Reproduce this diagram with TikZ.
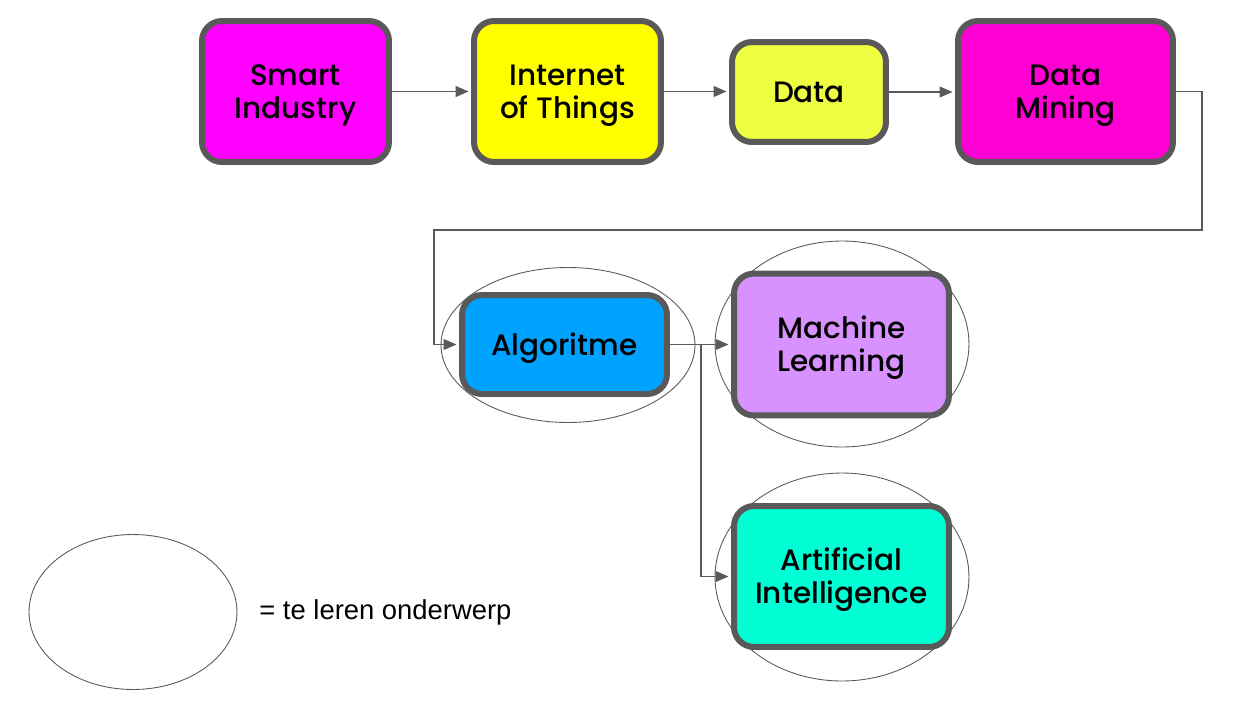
\documentclass[tikz,border=0pt]{standalone}
\usepackage{fontspec}
\setmainfont{Poppins}[UprightFont=* Medium]
\newfontfamily\legendfont{Liberation Sans}
\usetikzlibrary{arrows.meta,shapes.geometric}
\definecolor{bordergray}{HTML}{595959}
\definecolor{linegray}{HTML}{5A5A5A}
\definecolor{cSmart}{HTML}{FF00FF}
\definecolor{cIoT}{HTML}{FFFF00}
\definecolor{cData}{HTML}{EEFF41}
\definecolor{cMining}{HTML}{FF00D4}
\definecolor{cAlgo}{HTML}{00A2FF}
\definecolor{cML}{HTML}{D892FF}
\definecolor{cAI}{HTML}{00FFD5}
\newcommand\boxtext[1]{\raisebox{-0.08cm}[\height][\depth]{\begin{tabular}{@{}c@{}}#1\end{tabular}}}
\tikzset{
  box/.style={draw=bordergray, line width=0.12cm, rounded corners=0.4cm,
    inner sep=0pt, font=\fontsize{16.8}{18.5}\selectfont},
  conn/.style={draw=linegray, line width=0.6pt,
    -{Triangle[length=0.26cm,width=0.22cm]}, shorten >=0.05cm},
  topic/.style={draw=linegray, line width=0.5pt, ellipse, inner sep=0pt}
}
\begin{document}
\begin{tikzpicture}[x=0.02cm,y=-0.02cm]
\useasboundingbox (0,0) rectangle (1255,708);
% ellipses (topics to learn)
\node[topic, minimum width=5.08cm, minimum height=3.1cm] (eAlgo) at (568,345) {};
\node[topic, minimum width=5.08cm, minimum height=4.12cm] (eML) at (842,344) {};
\node[topic, minimum width=5.08cm, minimum height=4.16cm] (eAI) at (842,577) {};
\node[topic, minimum width=4.16cm, minimum height=3.1cm] (eLeg) at (133,612) {};
% boxes
\node[box, fill=cSmart, minimum width=3.74cm, minimum height=2.82cm] (smart) at (295.5,91.5) {\boxtext{Smart\\Industry}};
\node[box, fill=cIoT, minimum width=3.74cm, minimum height=2.82cm] (iot) at (567.5,91.5) {\boxtext{Internet\\of Things}};
\node[box, fill=cData, minimum width=3.08cm, minimum height=2.0cm] (data) at (809,92) {\boxtext{Data}};
\node[box, fill=cMining, minimum width=4.3cm, minimum height=2.82cm] (mining) at (1065.5,91.5) {\boxtext{Data\\Mining}};
\node[box, fill=cAlgo, minimum width=4.1cm, minimum height=1.98cm] (algo) at (564.5,344.5) {\boxtext{Algoritme}};
\node[box, fill=cML, minimum width=4.3cm, minimum height=2.84cm] (ml) at (841.5,344.5) {\boxtext{Machine\\Learning}};
\node[box, fill=cAI, minimum width=4.3cm, minimum height=2.82cm] (ai) at (841.5,576.5) {\boxtext{Artificial\\Intelligence}};
% legend text
\node[anchor=west, inner sep=0pt, font=\legendfont\fontsize{15.6}{18}\selectfont] (leg) at (259,612) {= te leren onderwerp};
% connectors
\draw[conn] (smart) -- (iot);
\draw[conn] (iot.east) -- (iot.east -| data.west);
\draw[conn] (data.east) -- (data.east -| mining.west);
\coordinate (r1) at (1202,230);
\coordinate (l1) at (434,230);
\draw[conn] (mining.east) -| (r1) -- (l1) |- (algo.west);
\draw[conn] (algo.east) -- (algo.east -| ml.west);
\coordinate (br) at (701,344.5);
\draw[conn] (br) |- (ai.west);
\end{tikzpicture}
\end{document}
